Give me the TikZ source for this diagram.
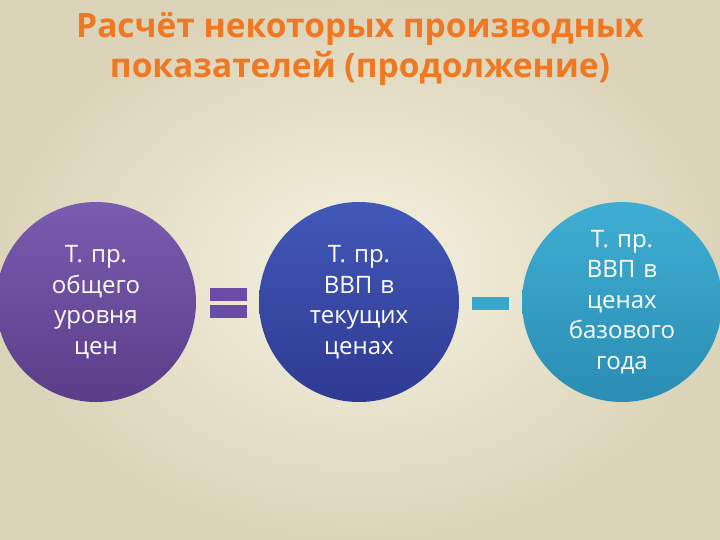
\documentclass[tikz,border=0pt]{standalone}
\usepackage{fontspec}
\setmainfont{Open Sans}
\definecolor{titleorange}{HTML}{F07822}
\definecolor{bgin}{HTML}{F6F2E0}
\definecolor{bgout}{HTML}{DBD4B9}
\definecolor{levtop}{HTML}{7A5CB0}
\definecolor{levbot}{HTML}{5A3D88}
\definecolor{nomtop}{HTML}{4258B8}
\definecolor{nombot}{HTML}{2E3A92}
\definecolor{realtop}{HTML}{3FAED2}
\definecolor{realbot}{HTML}{2A8DB4}
\definecolor{eqfill}{HTML}{6A4CA6}
\definecolor{minusfill}{HTML}{3AA6CC}

\tikzstyle{bubble} = [circle, 
minimum size=200pt, 
inner sep=0pt,
text width=118pt,
align=center,
text=white,
font=\fontsize{24}{30.5}\selectfont]
\tikzstyle{pricelevel} = [bubble, top color=levtop, bottom color=levbot]
\tikzstyle{nominal} = [bubble, top color=nomtop, bottom color=nombot]
\tikzstyle{realgdp} = [bubble, top color=realtop, bottom color=realbot]
\tikzstyle{bar} = [rectangle, minimum width=37pt, minimum height=13pt, inner sep=0pt]

\begin{document}
\begin{tikzpicture}[x=1pt, y=-1pt]
\useasboundingbox (0,0) rectangle (720,540);
\shade [inner color=bgin, outer color=bgout] (0,0) rectangle (720,540);

\node (title) [text=titleorange, align=center, font=\fontsize{33.5}{40}\selectfont\bfseries] at (360,49) {Расчёт некоторых производных\\показателей (продолжение)};

\node (level) [pricelevel] at (96,302) {Т. пр.\\общего\\уровня\\цен};
\node (nom) [nominal] at (359,302) {Т. пр.\\ВВП в\\текущих\\ценах};
\node (real) [realgdp] at (622,302) {Т. пр.\\ВВП в\\ценах\\базового\\года};

\node (eqtop) [bar, fill=eqfill] at (228.5,294.5) {};
\node (eqbot) [bar, fill=eqfill] at (228.5,311.5) {};
\node (minus) [bar, fill=minusfill] at (490.5,303.5) {};
\end{tikzpicture}
\end{document}
